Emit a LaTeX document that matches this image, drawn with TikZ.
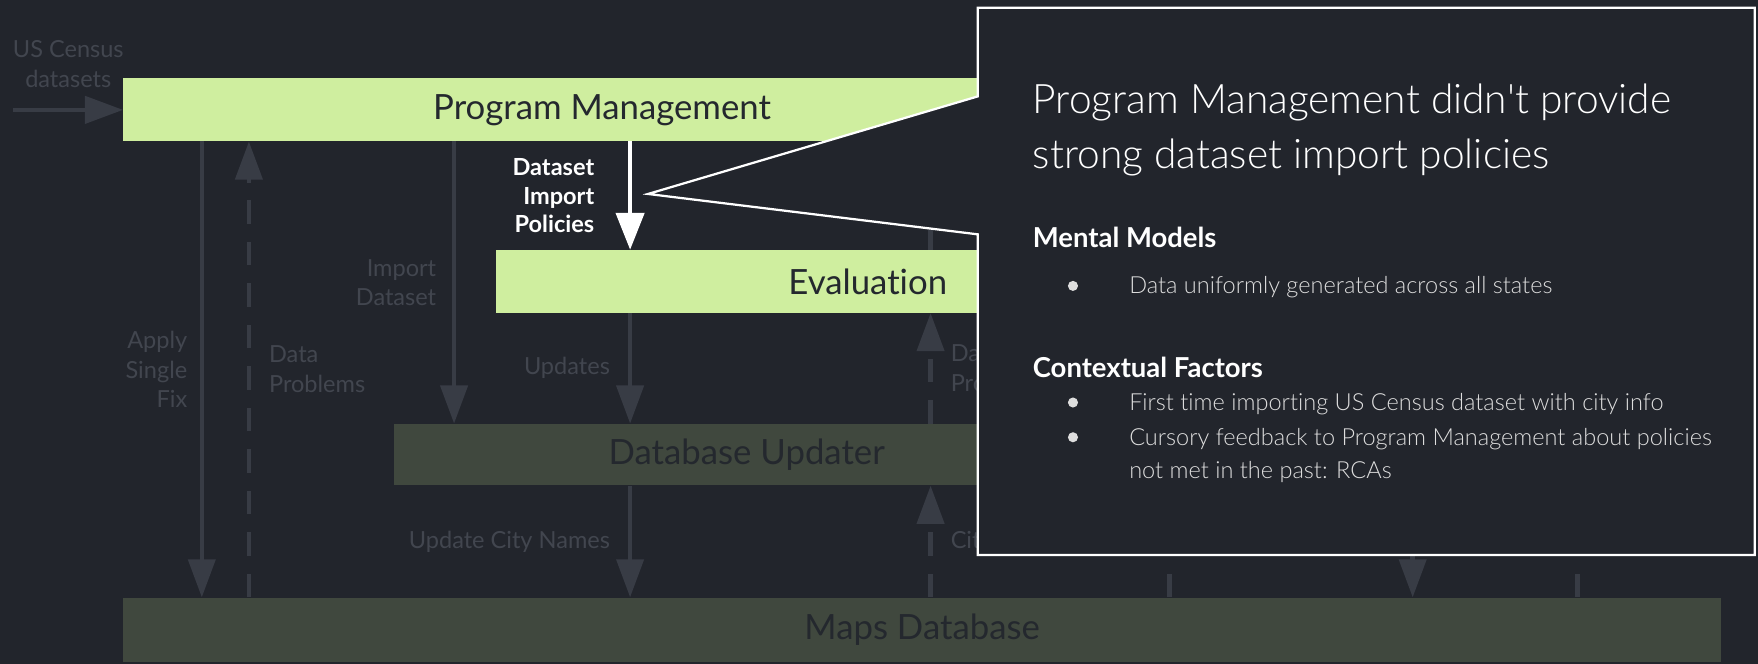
\documentclass[tikz,border=0pt]{standalone}
\usepackage{fontspec}
\IfFontExistsTF{Lato Light}
	{\setmainfont{Lato Light}[BoldFont=Lato Bold, Ligatures=NoCommon]}
	{\setmainfont{Lato}[Ligatures=NoCommon]}
\newfontfamily\boxfont{Lato}[Ligatures=NoCommon]
\usetikzlibrary{arrows.meta,positioning}
\definecolor{slide}{RGB}{34,37,44}
\definecolor{stage}{RGB}{207,238,159}
\definecolor{store}{RGB}{64,72,62}
\definecolor{wire}{RGB}{56,60,69}
\definecolor{faint}{RGB}{66,70,79}
\definecolor{ink}{RGB}{36,40,46}
\definecolor{note}{RGB}{222,222,222}
\tikzset{
	stagebox/.style={fill=stage, text=ink, inner sep=0pt, minimum height=56pt, font=\boxfont\fontsize{31}{37}\selectfont},
	storebox/.style={stagebox, fill=store},
	flow/.style={draw=wire, line width=4pt, -{Triangle[length=34pt,width=24pt]}},
	feedback/.style={flow, dash pattern=on 21pt off 16pt},
	policy/.style={draw=white, line width=4pt, -{Triangle[length=33pt,width=25pt]}},
	lbl/.style={text=faint, inner sep=0pt, font=\boxfont\fontsize{21}{26.5}\selectfont},
	head/.style={text=white, inner sep=0pt, anchor=base west, font=\bfseries\fontsize{24.5}{28}\selectfont},
	item/.style={text=note, inner sep=0pt, anchor=base west, font=\fontsize{21}{30}\selectfont}
}
\begin{document}
\begin{tikzpicture}[x=1pt,y=-1pt]
	\useasboundingbox (0,0) rectangle (1568,592);
	\fill[slide] (0,0) rectangle (1568,592);
	\node[stagebox, minimum width=854pt] (pm) at (537,98) {Program Management};
	\node[stagebox, minimum width=664pt] (eval) at (774,251) {Evaluation};
	\node[storebox, minimum width=630pt, minimum height=55pt] (dbu) at (666,405.5) {Database Updater};
	\node[storebox, minimum width=1425pt, minimum height=57pt] (maps) at (822.5,561.5) {Maps Database};
	\coordinate (census) at (12,98);
	\coordinate (fix) at (180,0);
	\coordinate (probs) at (222,0);
	\coordinate (import) at (405,0);
	\coordinate (main) at (562,0);
	\coordinate (back) at (830,0);
	\coordinate (gap1) at (1043,300);
	\coordinate (gap2) at (1260,300);
	\coordinate (gap3) at (1407,300);
	\draw[flow] (census) -- node[lbl, midway, above=18pt, align=center] {US Census\\datasets} (pm.west);
	\draw[flow] (fix |- pm.south) -- node[lbl, midway, left=11pt, align=right] {Apply\\Single\\Fix} (fix |- maps.north);
	\draw[feedback] (probs |- maps.north) -- node[lbl, midway, right=16pt, align=left] {Data\\Problems} (probs |- pm.south);
	\draw[flow] (import |- pm.south) -- node[lbl, midway, left=14pt, align=right] {Import\\Dataset} (import |- dbu.north);
	\draw[policy] (main |- pm.south) -- node[midway, left=30pt, inner sep=0pt, align=right, text=white, font=\bfseries\fontsize{21}{25.5}\selectfont] {Dataset\\Import\\Policies} (main |- eval.north);
	\draw[flow] (main |- eval.south) -- node[lbl, midway, left=16pt] {Updates} (main |- dbu.north);
	\draw[flow] (main |- dbu.south) -- node[lbl, midway, left=16pt] {Update City Names} (main |- maps.north);
	\draw[feedback] (back |- eval.north) -- (back |- pm.south);
	\draw[feedback] (back |- dbu.north) -- node[lbl, midway, right=16pt, align=left] {Data\\Problems} (back |- eval.south);
	\draw[feedback] (back |- maps.north) -- node[lbl, midway, right=16pt] {City} (back |- dbu.south);
	\draw[feedback] (gap1 |- maps.north) -- (gap1);
	\draw[flow] (gap2) -- (gap2 |- maps.north);
	\draw[feedback] (gap3 |- maps.north) -- (gap3);
	\coordinate (tip) at (578,173);
	\filldraw[fill=slide, draw=white, line width=2pt] (872,7) -- (1565,7) -- (1565,495) -- (872,495) -- (872,209) -- (tip) -- (872,86) -- cycle;
	\node[text=white, inner sep=0pt, anchor=base west, font=\fontsize{36.3}{49}\selectfont] (claim) at (921,101) {Program Management didn\textquotesingle t provide};
	\node[text=white, inner sep=0pt, anchor=base west, font=\fontsize{36.3}{49}\selectfont] (claimb) at (921,150) {strong dataset import policies};
	\node[head] (mental) at (921,221) {Mental Models};
	\node[item] (mm1) at (1007,262) {Data uniformly generated across all states};
	\node[head] (context) at (921,337) {Contextual Factors};
	\node[item] (cf1) at (1007,366) {First time importing US Census dataset with city info};
	\node[item] (cf2) at (1007,397) {Cursory feedback to Program Management about policies};
	\node[item] (cf2b) at (1007,427) {not met in the past: RCAs};
	\foreach \n in {mm1,cf1,cf2}
		\fill[note] ([xshift=-50pt,yshift=7pt]\n.base west) circle[radius=4.5pt];
\end{tikzpicture}
\end{document}
